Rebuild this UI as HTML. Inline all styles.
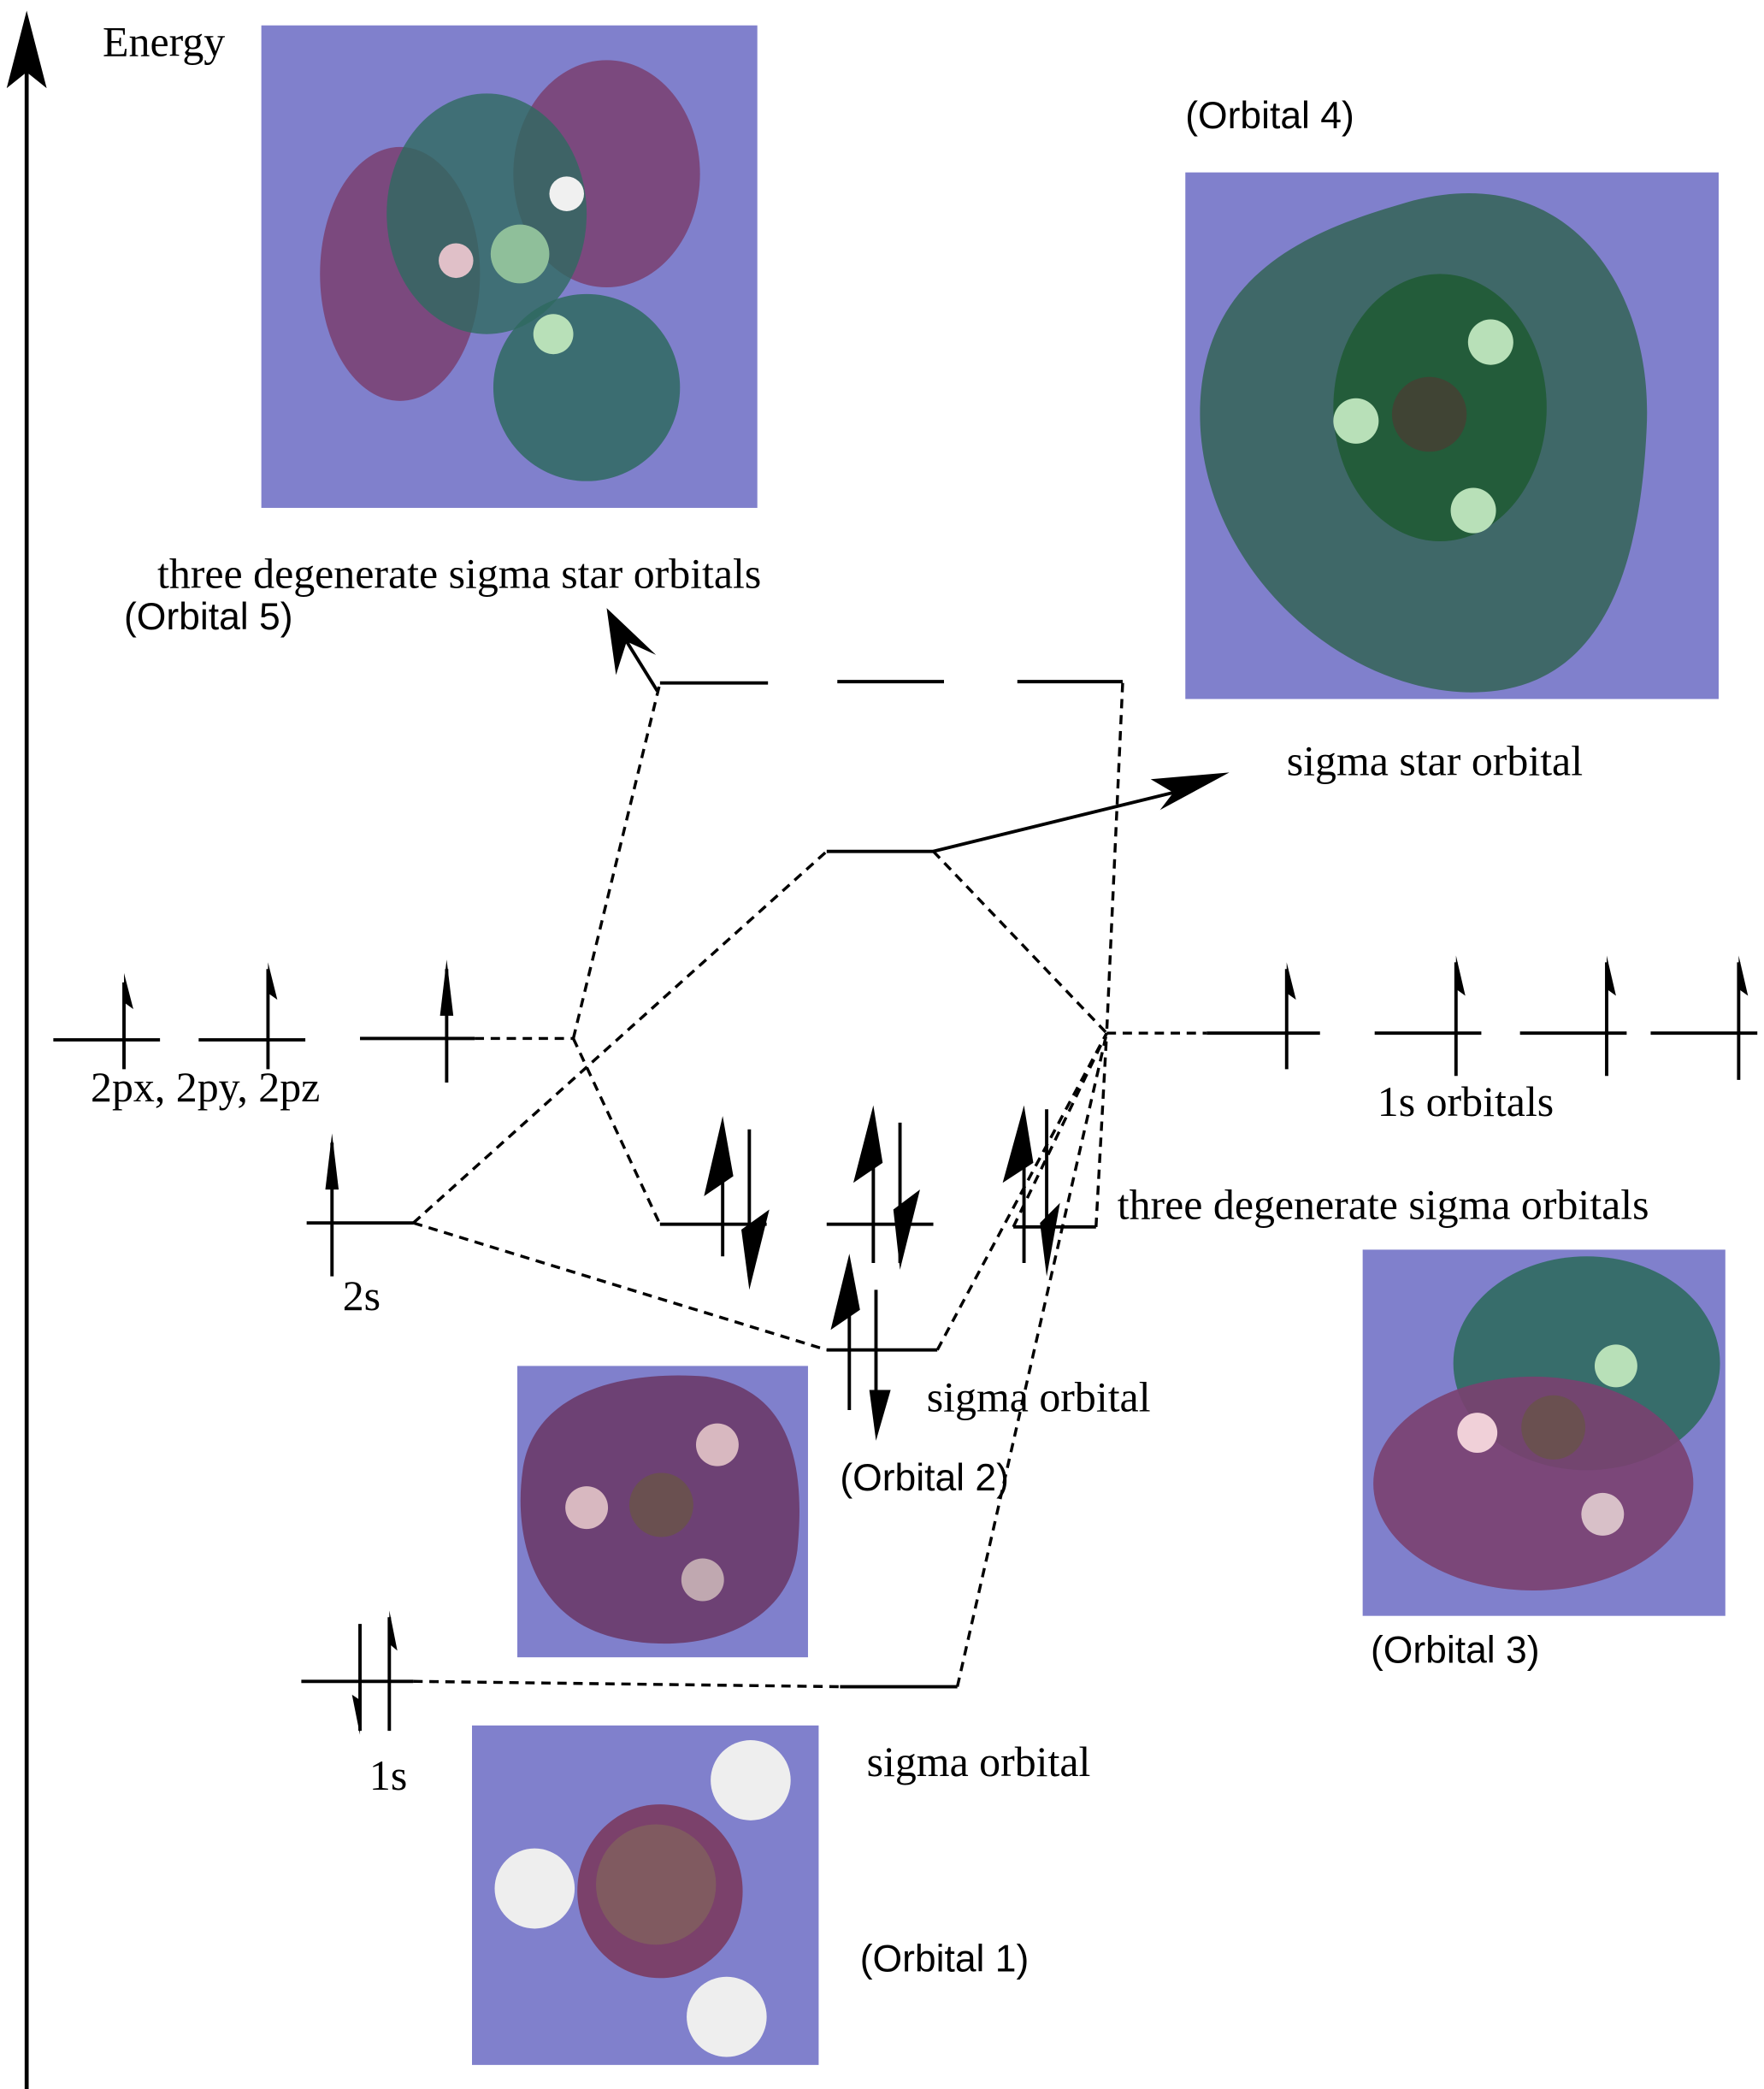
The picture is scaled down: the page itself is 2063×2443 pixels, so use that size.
<!DOCTYPE html>
<html><head><meta charset="utf-8"><style>
html,body{margin:0;padding:0;background:#fff;}
svg{display:block;}
.s{font-family:"Liberation Serif",serif;font-size:32px;fill:#000;}
.a{font-family:"Liberation Sans",sans-serif;font-size:28.5px;fill:#000;}
</style></head><body>
<svg width="2063" height="2443" viewBox="0 0 1323 1563" preserveAspectRatio="none" xmlns="http://www.w3.org/2000/svg">
<!-- energy axis -->
<line x1="20" y1="50" x2="20" y2="1563" stroke="#000" stroke-width="3"/>
<polygon points="20,8 5,66 20,54 35,66" fill="#000"/>
<text x="77" y="42" class="s">Energy</text>

<!-- Orbital 5 -->
<rect x="196" y="19" width="372" height="361" fill="#8080cc"/>
<ellipse cx="300" cy="205" rx="60" ry="95" fill="#7a4070" opacity="0.85"/>
<ellipse cx="455" cy="130" rx="70" ry="85" fill="#7a4070" opacity="0.85"/>
<ellipse cx="365" cy="160" rx="75" ry="90" fill="#2f6a60" opacity="0.8"/>
<ellipse cx="440" cy="290" rx="70" ry="70" fill="#2f6a60" opacity="0.85"/>
<circle cx="390" cy="190" r="22" fill="#8fbf9a"/>
<circle cx="342" cy="195" r="13" fill="#e0c0c8"/>
<circle cx="425" cy="145" r="13" fill="#f0f0f0"/>
<circle cx="415" cy="250" r="15" fill="#b8e0b8"/>

<!-- Orbital 4 -->
<rect x="889" y="129" width="400" height="394" fill="#8080cc"/>
<path d="M900,310 C900,200 990,170 1060,150 C1180,120 1240,220 1235,320 C1230,430 1200,520 1100,518 C1000,515 900,420 900,310Z" fill="#3f6868"/>
<ellipse cx="1080" cy="305" rx="80" ry="100" fill="#1e5a32" opacity="0.85"/>
<circle cx="1072" cy="310" r="28" fill="#404434"/>
<circle cx="1118" cy="256" r="17" fill="#b8e0b8"/>
<circle cx="1017" cy="315" r="17" fill="#b8e0b8"/>
<circle cx="1105" cy="382" r="17" fill="#b8e0b8"/>

<!-- Orbital 3 -->
<rect x="1022" y="935" width="272" height="274" fill="#8080cc"/>
<ellipse cx="1190" cy="1020" rx="100" ry="80" fill="#2f6a60" opacity="0.9"/>
<ellipse cx="1150" cy="1110" rx="120" ry="80" fill="#7a4070" opacity="0.9"/>
<circle cx="1165" cy="1068" r="24" fill="#6a5050"/>
<circle cx="1212" cy="1022" r="16" fill="#b8e0b8"/>
<circle cx="1108" cy="1072" r="15" fill="#f0d0d8"/>
<circle cx="1202" cy="1133" r="16" fill="#d8c0c8"/>

<!-- Orbital 2 -->
<rect x="388" y="1022" width="218" height="218" fill="#8080cc"/>
<path d="M392,1100 C400,1040 470,1025 530,1030 C590,1040 605,1090 598,1160 C590,1220 520,1240 460,1225 C400,1210 385,1150 392,1100Z" fill="#6a3a6a" opacity="0.9"/>
<circle cx="496" cy="1126" r="24" fill="#6a5050"/>
<circle cx="538" cy="1081" r="16" fill="#d8b8c0"/>
<circle cx="440" cy="1128" r="16" fill="#d8b8c0"/>
<circle cx="527" cy="1182" r="16" fill="#c0a8b0"/>

<!-- Orbital 1 -->
<rect x="354" y="1291" width="260" height="254" fill="#8080cc"/>
<ellipse cx="495" cy="1415" rx="62" ry="65" fill="#7a3a60" opacity="0.9"/>
<circle cx="492" cy="1410" r="45" fill="#805a60"/>
<circle cx="563" cy="1332" r="30" fill="#eeeeee"/>
<circle cx="401" cy="1413" r="30" fill="#eeeeee"/>
<circle cx="545" cy="1509" r="30" fill="#eeeeee"/>

<!-- labels -->
<text x="118" y="440" class="s">three degenerate sigma star orbitals</text>
<text x="93" y="471" class="a">(Orbital 5)</text>
<text x="889" y="96" class="a">(Orbital 4)</text>
<text x="965" y="580" class="s">sigma star orbital</text>
<text x="1033" y="835" class="s">1s orbitals</text>
<text x="838" y="912" class="s">three degenerate sigma orbitals</text>
<text x="695" y="1056" class="s">sigma orbital</text>
<text x="630" y="1115" class="a">(Orbital 2)</text>
<text x="1028" y="1244" class="a">(Orbital 3)</text>
<text x="650" y="1329" class="s">sigma orbital</text>
<text x="645" y="1475" class="a">(Orbital 1)</text>
<text x="68" y="824" class="s">2px, 2py, 2pz</text>
<text x="257" y="980" class="s">2s</text>
<text x="277" y="1339" class="s">1s</text>

<g stroke="#000" stroke-width="2.5" fill="none">
<line x1="40" y1="778" x2="120" y2="778"/>
<line x1="149" y1="778" x2="229" y2="778"/>
<line x1="270" y1="777" x2="356" y2="777"/>
<line x1="230" y1="915" x2="310" y2="915"/>
<line x1="226" y1="1258" x2="310" y2="1258"/>
<line x1="630" y1="1262" x2="718" y2="1262"/>
<line x1="495" y1="511" x2="576" y2="511"/>
<line x1="628" y1="510" x2="708" y2="510"/>
<line x1="763" y1="510" x2="842" y2="510"/>
<line x1="620" y1="637" x2="700" y2="637"/>
<line x1="905" y1="773" x2="990" y2="773"/>
<line x1="1031" y1="773" x2="1111" y2="773"/>
<line x1="1140" y1="773" x2="1220" y2="773"/>
<line x1="1238" y1="773" x2="1318" y2="773"/>
<line x1="495" y1="916" x2="575" y2="916"/>
<line x1="620" y1="916" x2="700" y2="916"/>
<line x1="760" y1="918" x2="822" y2="918"/>
<line x1="620" y1="1010" x2="703" y2="1010"/>
<line x1="93" y1="735" x2="93" y2="800"/>
<line x1="201" y1="725" x2="201" y2="800"/>
<line x1="335" y1="725" x2="335" y2="810"/>
<line x1="249" y1="855" x2="249" y2="955"/>
<line x1="270" y1="1215" x2="270" y2="1295"/>
<line x1="292" y1="1210" x2="292" y2="1295"/>
<line x1="965" y1="725" x2="965" y2="800"/>
<line x1="1092" y1="720" x2="1092" y2="805"/>
<line x1="1205" y1="720" x2="1205" y2="805"/>
<line x1="1304" y1="720" x2="1304" y2="808"/>
<line x1="542" y1="850" x2="542" y2="940"/>
<line x1="562" y1="845" x2="562" y2="955"/>
<line x1="655" y1="840" x2="655" y2="945"/>
<line x1="675" y1="840" x2="675" y2="945"/>
<line x1="768" y1="840" x2="768" y2="945"/>
<line x1="785" y1="830" x2="785" y2="945"/>
<line x1="637" y1="950" x2="637" y2="1055"/>
<line x1="657" y1="965" x2="657" y2="1065"/>
<line x1="700" y1="637" x2="880" y2="593"/>
<line x1="493" y1="517" x2="470" y2="480"/>
</g>
<g fill="#000">
<polygon points="93,728 100,755 93,750"/>
<polygon points="201,720 208,748 201,743"/>
<polygon points="335,718 340,760 330,760"/>
<polygon points="249,848 254,890 244,890"/>
<polygon points="292,1205 298,1235 292,1230"/>
<polygon points="270,1298 264,1268 270,1272"/>
<polygon points="965,720 972,748 965,743"/>
<polygon points="1092,715 1099,745 1092,740"/>
<polygon points="1205,715 1212,745 1205,740"/>
<polygon points="1304,715 1311,745 1304,740"/>
<polygon points="542,835 550,880 528,895"/>
<polygon points="562,965 556,920 577,905"/>
<polygon points="655,827 662,870 640,885"/>
<polygon points="675,950 670,905 690,890"/>
<polygon points="768,827 775,870 752,885"/>
<polygon points="785,955 780,915 795,900"/>
<polygon points="637,938 645,980 623,995"/>
<polygon points="657,1078 652,1040 668,1040"/>
<polygon points="455,455 492,490 470,480 462,505"/>
<polygon points="922,578 870,606 880,593 863,583"/>
</g>
<g stroke="#000" stroke-width="2.2" fill="none" stroke-dasharray="7,5">
<line x1="356" y1="777" x2="430" y2="777"/>
<line x1="430" y1="777" x2="495" y2="511"/>
<line x1="842" y1="511" x2="830" y2="773"/>
<line x1="310" y1="915" x2="620" y2="637"/>
<line x1="700" y1="637" x2="830" y2="773"/>
<line x1="830" y1="773" x2="905" y2="773"/>
<line x1="430" y1="777" x2="495" y2="916"/>
<line x1="822" y1="918" x2="830" y2="773"/>
<line x1="310" y1="915" x2="620" y2="1010"/>
<line x1="703" y1="1010" x2="830" y2="773"/>
<line x1="310" y1="1258" x2="630" y2="1262"/>
<line x1="718" y1="1262" x2="830" y2="773"/>
<line x1="760" y1="918" x2="830" y2="773"/>
</g>
</svg>
</body></html>
